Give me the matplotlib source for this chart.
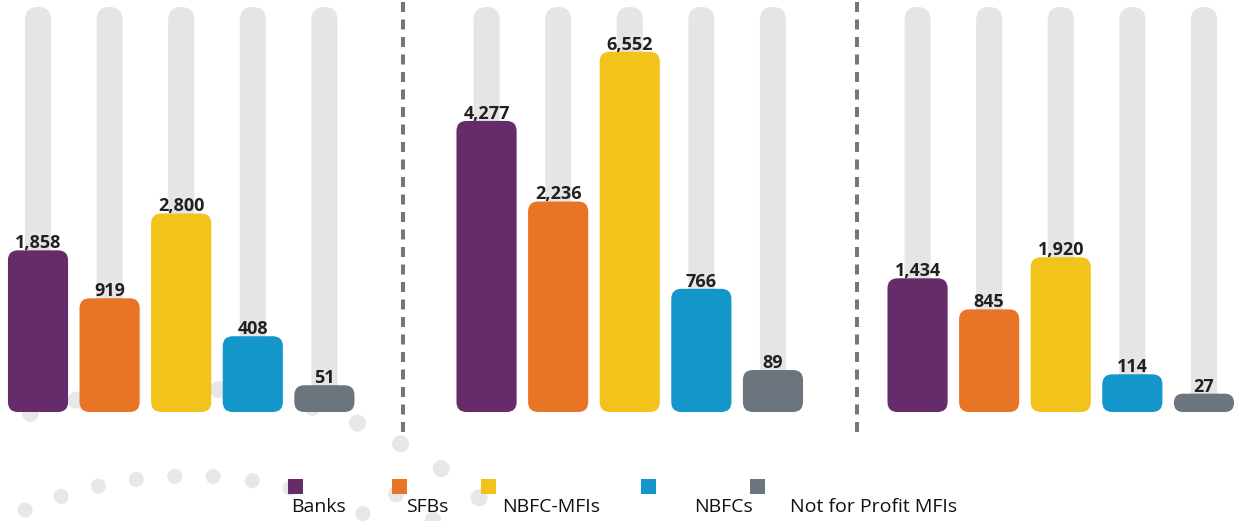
import numpy as np
import matplotlib.pyplot as plt
from matplotlib.patches import FancyBboxPatch, Circle, Rectangle
from matplotlib.transforms import IdentityTransform

plt.rcParams['lines.scale_dashes'] = False

categories = ['Banks', 'SFBs', 'NBFC-MFIs', 'NBFCs', 'Not for Profit MFIs']
panel_1 = [1858, 919, 2800, 408, 51]
panel_2 = [4277, 2236, 6552, 766, 89]
panel_3 = [1434, 845, 1920, 114, 27]

colors = ['#652C69', '#E87425', '#F2C41B', '#1496CA', '#6C757D']
track_color = '#E4E5E7'
dot_color = '#E6E7E8'
text_color = '#231F20'
divider_color = '#6D7881'

W, H = 1237, 521
fig = plt.figure(figsize=(W / 100, H / 100), dpi=100)

# background layer in pixel coordinates (dots, dividers, legend)
bg = fig.add_axes([0, 0, 1, 1], zorder=0)
bg.set_xlim(0, W)
bg.set_ylim(H, 0)
bg.axis('off')


def px_axes(left, top, width, height):
    """
    Add an axes given in pixel units (top-left origin)
    """
    return fig.add_axes([left / W, 1 - (top + height) / H, width / W, height / H],
                        zorder=1)


def plot_panel(ax, values, ytop):
    """
    Draws one group of five bars with grey tracks behind them
    :return: tracks, bars
    """
    ax.set_yscale('function',
                  functions=(lambda v: np.sqrt(np.clip(v, 0, None)),
                             lambda v: np.square(v)))
    ax.set_xlim(-0.5, 4.5)
    ax.set_ylim(0, ytop)
    ax.axis('off')
    x = np.arange(len(values))
    tracks = ax.bar(x, ytop, width=0.364, color=track_color, zorder=1)
    bars = ax.bar(x, values, width=0.84, color=colors, zorder=2)
    for xi, v in zip(x, values):
        ax.annotate(f'{v:,}', (xi, v),
                    xytext=(0, 1.5),
                    textcoords='offset points',
                    ha='center', va='baseline',
                    fontsize=13, fontweight='bold',
                    family='Open Sans',
                    color=text_color, zorder=4)
    return tracks, bars


def round_bars(ax, bars, radius):
    """
    Swap the square bars for rounded ones, done in pixel space
    """
    for b in bars:
        bb = b.get_window_extent()
        r = min(radius, bb.height / 2, bb.width / 2)
        p = FancyBboxPatch((bb.x0, bb.y0), bb.width, bb.height,
                           boxstyle=f'round,pad=0,rounding_size={r}',
                           transform=IdentityTransform(),
                           facecolor=b.get_facecolor(),
                           edgecolor='none',
                           zorder=b.get_zorder(),
                           clip_on=False)
        b.remove()
        ax.add_artist(p)


# decorative dotted arcs
arc_a = dict(cx=190, cy=893, r=417, d=15,
             angles=[-23.3, -18, -12.7, -7.4, -2.1, 3.2, 8.6, 13.9, 24.5])
arc_b = dict(cx=181, cy=848, r=460, d=17,
             angles=[-19.1 + 5.95 * k for k in range(11)])
arc_c = dict(cx=181, cy=848, r=414, d=16,
             angles=[31.3, 37.5])
for arc in (arc_a, arc_b, arc_c):
    for a in np.radians(arc['angles']):
        bg.add_patch(Circle((arc['cx'] + arc['r'] * np.sin(a),
                             arc['cy'] - arc['r'] * np.cos(a)),
                            arc['d'] / 2, color=dot_color, lw=0))

# dashed dividers
for xd in (402.5, 857):
    bg.plot([xd, xd], [1.5, 434], color=divider_color, lw=2.9,
            linestyle=(0, (7.2, 5.4)), solid_capstyle='butt')

# legend
square_x = [288, 392, 481, 641, 750]
label_x = [291, 406, 502, 694, 790]
for sx, lx, c, name in zip(square_x, label_x, colors, categories):
    bg.add_patch(Rectangle((sx, 479), 15, 15, color=c, lw=0))
    bg.text(lx, 512, name, va='baseline', ha='left',
            fontsize=14, family='Open Sans', color='#111111')

panels = [panel_1, panel_2, panel_3]
lefts = [2.2, 450.75, 881.75]
ytops = [11660, 8280, 13160]
drawn = []
for vals, left, ytop in zip(panels, lefts, ytops):
    ax = px_axes(left, 7, 358, 405)
    drawn.append((ax,) + plot_panel(ax, vals, ytop))

fig.canvas.draw()
for ax, tracks, bars in drawn:
    round_bars(ax, tracks, 13)
    round_bars(ax, bars, 10)

plt.savefig('out.png', dpi=100)
